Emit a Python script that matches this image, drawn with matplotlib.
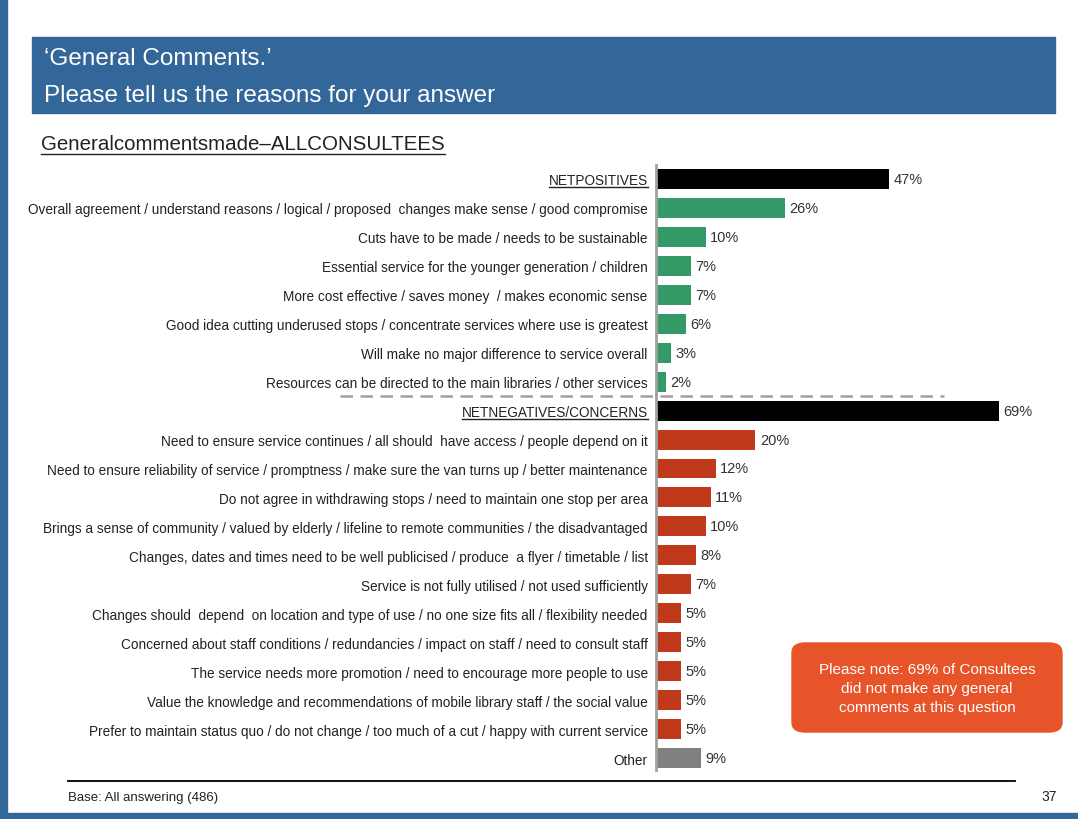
import matplotlib
matplotlib.use("Agg")
import matplotlib.pyplot as plt
from matplotlib.patches import Rectangle, FancyBboxPatch
from matplotlib.lines import Line2D

plt.rcParams['font.family'] = ['Liberation Sans', 'DejaVu Sans']

# data
labels = [
    "NETPOSITIVES",
    "Overall agreement / understand reasons / logical / proposed  changes make sense / good compromise",
    "Cuts have to be made / needs to be sustainable",
    "Essential service for the younger generation / children",
    "More cost effective / saves money  / makes economic sense",
    "Good idea cutting underused stops / concentrate services where use is greatest",
    "Will make no major difference to service overall",
    "Resources can be directed to the main libraries / other services",
    "NETNEGATIVES/CONCERNS",
    "Need to ensure service continues / all should  have access / people depend on it",
    "Need to ensure reliability of service / promptness / make sure the van turns up / better maintenance",
    "Do not agree in withdrawing stops / need to maintain one stop per area",
    "Brings a sense of community / valued by elderly / lifeline to remote communities / the disadvantaged",
    "Changes, dates and times need to be well publicised / produce  a flyer / timetable / list",
    "Service is not fully utilised / not used sufficiently",
    "Changes should  depend  on location and type of use / no one size fits all / flexibility needed",
    "Concerned about staff conditions / redundancies / impact on staff / need to consult staff",
    "The service needs more promotion / need to encourage more people to use",
    "Value the knowledge and recommendations of mobile library staff / the social value",
    "Prefer to maintain status quo / do not change / too much of a cut / happy with current service",
    "Other",
]
values = [47, 26, 10, 7, 7, 6, 3, 2,
          69, 20, 12, 11, 10, 8, 7, 5, 5, 5, 5, 5,
          9]
groups = ["net"] + ["pos"] * 7 + ["net"] + ["neg"] * 11 + ["other"]
colours = {"net": "#000000", "pos": "#339966", "neg": "#C0391B", "other": "#808080"}

W, H = 1078, 820
fig = plt.figure(figsize=(W / 100, H / 100), dpi=100)

blue = "#336699"
# page decorations
fig.patches.append(Rectangle((0, 0), 7 / W, 1, transform=fig.transFigure, color=blue, zorder=0))
fig.patches.append(Rectangle((0, 0), 1, 6 / H, transform=fig.transFigure, color=blue, zorder=0))
fig.patches.append(Rectangle((32 / W, 1 - 114 / H), (1055 - 32) / W, 76 / H,
                             transform=fig.transFigure, color=blue, zorder=0))
fig.text(44 / W, 1 - 59 / H, "\u2018General Comments.\u2019", color="white", fontsize=17.5, va="center")
fig.text(44 / W, 1 - 96 / H, "Please tell us the reasons for your answer", color="white", fontsize=17.5, va="center")
sub = fig.text(41 / W, 1 - 145 / H, "Generalcommentsmade\u2013ALLCONSULTEES", color="#222222",
               fontsize=14.8, va="center")

# chart
ax = fig.add_axes([656 / W, 1 - 770.6 / H, (W - 656) / W, (770.6 - 165.5) / H])
ypos = list(range(len(values)))
ax.barh(ypos, values, height=0.69, color=[colours[g] for g in groups])
for y, v in zip(ypos, values):
    ax.text(v + 0.9, y, "%d%%" % v, va="center", ha="left", fontsize=10.5, color="#333333")
ax.set_xlim(0, 85)
ax.set_ylim(20.4, -0.5)
ax.set_yticks(ypos)
ax.set_yticklabels(labels, fontsize=9.8, color="#222222")
ax.tick_params(axis="y", length=0, pad=6)
ax.set_xticks([])
for s in ["top", "right", "bottom"]:
    ax.spines[s].set_visible(False)
ax.spines["left"].set_color("#A0A0A0")
ax.spines["left"].set_linewidth(2)
ax.plot([-63.6, 58.1], [7.5, 7.5], color="#A0A0A0", lw=1.8, linestyle=(0, (5, 3)), clip_on=False)

# note box
fig.patches.append(FancyBboxPatch((792 / W, 1 - 733 / H), (1062 - 792) / W, (733 - 644) / H,
                                  boxstyle="round,pad=0,rounding_size=0.012",
                                  transform=fig.transFigure, color="#E8542A", zorder=3))
fig.text(927 / W, 1 - 689 / H,
         "Please note: 69% of Consultees\ndid not make any general\ncomments at this question",
         color="white", fontsize=11, ha="center", va="center", linespacing=1.45, zorder=4)

# footer
fig.add_artist(Line2D([68 / W, 1015 / W], [1 - 782 / H, 1 - 782 / H], color="#111111", lw=1.4))
fig.text(68 / W, 1 - 798 / H, "Base: All answering (486)", fontsize=9.5, va="center", color="#222222")
fig.text(1057 / W, 1 - 797 / H, "37", fontsize=10, va="center", ha="right", color="#222222")

# underlines
fig.canvas.draw()
r = fig.canvas.get_renderer()
def underline(t):
    bb = t.get_window_extent(r)
    fig.add_artist(Line2D([bb.x0 / W, bb.x1 / W], [bb.y0 / H, bb.y0 / H],
                          color=t.get_color(), lw=1))
underline(sub)
tl = ax.get_yticklabels()
underline(tl[0])
underline(tl[8])

fig.savefig("out.png", dpi=100)
